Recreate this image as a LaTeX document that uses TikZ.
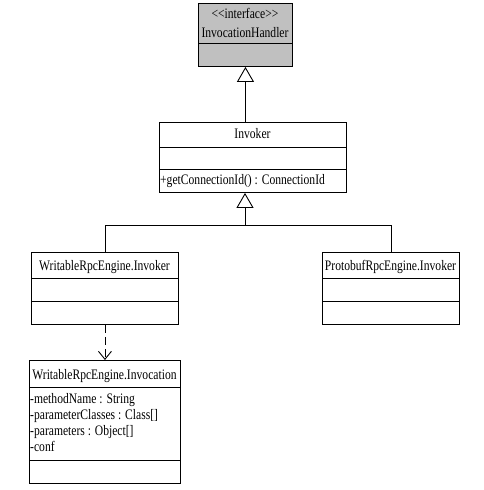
\documentclass[tikz,border=0pt]{standalone}
\usepackage{fontspec}
\setmainfont{Liberation Serif}
\newfontfamily\condfont[FakeStretch=0.8]{Liberation Serif}
\usetikzlibrary{arrows.meta,calc}
\begin{document}
\begin{tikzpicture}[x=1pt,y=-1pt,
  box/.style={draw=black, line width=0.9pt, anchor=north west, inner sep=0pt},
  lbl/.style={font=\condfont\fontsize{14.5}{18.5}\selectfont, inner sep=0pt, anchor=base},
  attr/.style={font=\condfont\fontsize{14.5}{16}\selectfont, inner sep=0pt, anchor=base west},
  line/.style={draw=black, line width=0.9pt},
  inherit/.style={line, -{Triangle[open, length=15pt, width=17pt, line width=0.9pt]}},
  depend/.style={line, dash pattern=on 8pt off 4pt, -{Straight Barb[length=8pt, width=13pt, line width=0.9pt]}}
]
\useasboundingbox (0,0) rectangle (483,490);
% InvocationHandler
\node[box, fill={rgb,255:red,192;green,192;blue,192}, minimum width=94pt, minimum height=63pt] (ih) at (198,3) {};
\draw[line] ($(ih.north west)+(0,40)$) -- ($(ih.north east)+(0,40)$);
\node[lbl] (ihst) at (245,18.5) {<{}<interface>{}>};
\node[lbl] (ihname) at (245,37) {InvocationHandler};
% Invoker
\node[box, minimum width=187pt, minimum height=70pt] (inv) at (159,122) {};
\draw[line] ($(inv.north west)+(0,25)$) -- ($(inv.north east)+(0,25)$);
\draw[line] ($(inv.north west)+(0,47)$) -- ($(inv.north east)+(0,47)$);
\node[lbl] (invname) at (252.5,138) {Invoker};
\node[attr] (invop) at (160,184) {+getConnectionId() : ConnectionId};
% WritableRpcEngine.Invoker
\node[box, minimum width=147pt, minimum height=72pt] (wri) at (31,252) {};
\draw[line] ($(wri.north west)+(0,26)$) -- ($(wri.north east)+(0,26)$);
\draw[line] ($(wri.north west)+(0,49)$) -- ($(wri.north east)+(0,49)$);
\node[lbl] (wriname) at (104.5,270) {WritableRpcEngine.Invoker};
% ProtobufRpcEngine.Invoker
\node[box, minimum width=137pt, minimum height=72pt] (pri) at (322,252) {};
\draw[line] ($(pri.north west)+(0,26)$) -- ($(pri.north east)+(0,26)$);
\draw[line] ($(pri.north west)+(0,49)$) -- ($(pri.north east)+(0,49)$);
\node[lbl] (priname) at (390.5,270) {ProtobufRpcEngine.Invoker};
% WritableRpcEngine.Invocation
\node[box, minimum width=151pt, minimum height=123pt] (wrv) at (29,360) {};
\draw[line] ($(wrv.north west)+(0,27)$) -- ($(wrv.north east)+(0,27)$);
\draw[line] ($(wrv.north west)+(0,100)$) -- ($(wrv.north east)+(0,100)$);
\node[lbl] (wrvname) at (104.5,379) {WritableRpcEngine.Invocation};
\node[attr] (a1) at (30,403) {-methodName : String};
\node[attr] (a2) at (30,419) {-parameterClasses : Class[]};
\node[attr] (a3) at (30,435) {-parameters : Object[]};
\node[attr] (a4) at (30,451) {-conf};
% connectors
\draw[inherit] (ih.south |- inv.north) -- (ih.south);
\coordinate (j) at (245,225);
\draw[line] (wri.north) |- (j);
\draw[line] (pri.north) |- (j);
\draw[inherit] (j) -- (j |- inv.south);
\draw[depend] (wri.south) -- (wrv.north -| wri.south);
\end{tikzpicture}
\end{document}
